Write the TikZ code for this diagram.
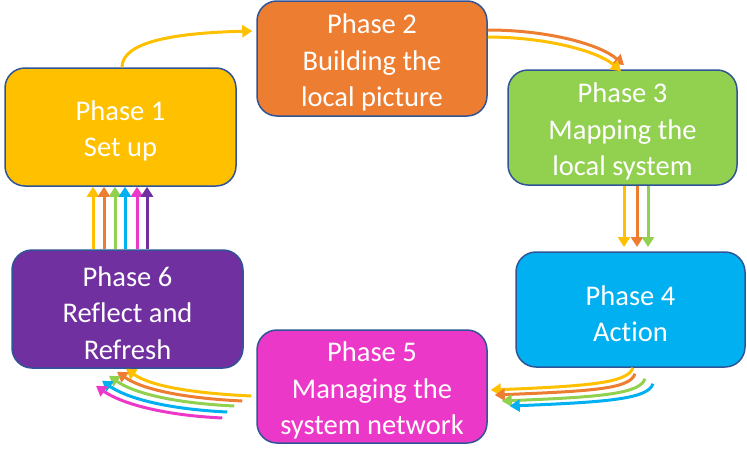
\documentclass[tikz,border=0pt]{standalone}
\usepackage{fontspec}
\setmainfont{Carlito}[Ligatures=NoCommon]
\usetikzlibrary{arrows.meta,calc}
\definecolor{cyel}{RGB}{255,192,0}
\definecolor{cora}{RGB}{237,125,49}
\definecolor{cgrn}{RGB}{146,208,80}
\definecolor{cblu}{RGB}{0,176,240}
\definecolor{cmag}{RGB}{236,56,200}
\definecolor{cpur}{RGB}{112,48,160}
\definecolor{cbord}{RGB}{47,85,151}
\newcommand\mytstrut{\rule{0pt}{28pt}}
\tikzset{
  phase/.style={draw=cbord, line width=1.5pt, rounded corners=20pt, align=center,
    text=white, font=\fontsize{28.5}{36.5}\selectfont, inner sep=0pt},
  arr/.style={line width=3pt, -{Triangle[length=10pt,width=12pt]}}
}
\begin{document}
\begin{tikzpicture}[x=1pt,y=-1pt]
\useasboundingbox (0,0) rectangle (747,450);
\node[phase, fill=cyel, minimum width=231pt, minimum height=118pt] (p1) at (120.5,127) {\mytstrut Phase 1\\Set up};
\node[phase, fill=cora, minimum width=230pt, minimum height=115pt] (p2) at (372,58.5) {\mytstrut Phase 2\\Building the\\local picture};
\node[phase, fill=cgrn, minimum width=229pt, minimum height=115pt] (p3) at (622.5,127.5) {\mytstrut Phase 3\\Mapping the\\local system};
\node[phase, fill=cblu, minimum width=229pt, minimum height=115pt] (p4) at (630.5,309.5) {\mytstrut Phase 4\\Action};
\node[phase, fill=cmag, minimum width=230pt, minimum height=113pt] (p5) at (372,386.5) {\mytstrut Phase 5\\Managing the\\system network};
\node[phase, fill=cpur, minimum width=231pt, minimum height=118pt] (p6) at (127.5,309) {\mytstrut Phase 6\\Reflect and\\Refresh};

% 1 -> 2
\draw[arr, cyel] ($(p1.north)+(1.5,0)$) .. controls +(0,-25) and +(-80,2) .. ($(p2.west)+(-4,-27.5)$);

% 2 -> 3
\draw[arr, cora] ($(p2.east)+(0,-28.5)$) .. controls +(60,0) and +(-24,-21) .. ($(p3.north)+(1.5,-4)$);
\draw[arr, cyel] ($(p2.east)+(0,-21.5)$) .. controls +(55,0) and +(-24,-21) .. ($(p3.north)+(-1.5,2)$);

% 3 -> 4
\draw[arr, cyel] (624,0 |- p3.south) -- (624,247);
\draw[arr, cora] (637,0 |- p3.south) -- (637,247);
\draw[arr, cgrn] (648,0 |- p3.south) -- (648,247);

% 4 -> 5
\draw[arr, cyel] ($(p4.south)+(2.5,0)$) .. controls +(-5,15) and +(100,-4) .. ($(p5.east)+(3,3.5)$);
\draw[arr, cora] ($(p4.south)+(4.5,6)$) .. controls +(-5,15) and +(100,-4) .. ($(p5.east)+(7,8.5)$);
\draw[arr, cgrn] ($(p4.south)+(14.5,11)$) .. controls +(-5,15) and +(100,-4) .. ($(p5.east)+(14,14.5)$);
\draw[arr, cblu] ($(p4.south)+(22.5,16)$) .. controls +(-5,15) and +(100,-4) .. ($(p5.east)+(22,19.5)$);

% 5 -> 6
\draw[arr, cyel] ($(p5.west)+(-5,9.5)$) .. controls +(-62,-3) and +(24,17) .. ($(p6.south)+(-1.5,0)$);
\draw[arr, cora] ($(p5.west)+(-14,14.5)$) .. controls +(-62,-3) and +(24,17) .. ($(p6.south)+(-10.5,3)$);
\draw[arr, cgrn] ($(p5.west)+(-22,19.5)$) .. controls +(-62,-3) and +(24,17) .. ($(p6.south)+(-18.5,7)$);
\draw[arr, cblu] ($(p5.west)+(-29,25.5)$) .. controls +(-62,-3) and +(24,17) .. ($(p6.south)+(-25.5,12)$);
\draw[arr, cmag] ($(p5.west)+(-34,31.5)$) .. controls +(-62,-3) and +(24,17) .. ($(p6.south)+(-31.5,17)$);

% 6 -> 1
\draw[arr, cyel] (93,0 |- p6.north) -- (93,0 |- p1.south);
\draw[arr, cora] (104,0 |- p6.north) -- (104,0 |- p1.south);
\draw[arr, cgrn] (115,0 |- p6.north) -- (115,0 |- p1.south);
\draw[arr, cblu] (125,0 |- p6.north) -- (125,0 |- p1.south);
\draw[arr, cmag] (137,0 |- p6.north) -- (137,0 |- p1.south);
\draw[arr, cpur] (147,0 |- p6.north) -- (147,0 |- p1.south);
\end{tikzpicture}
\end{document}
